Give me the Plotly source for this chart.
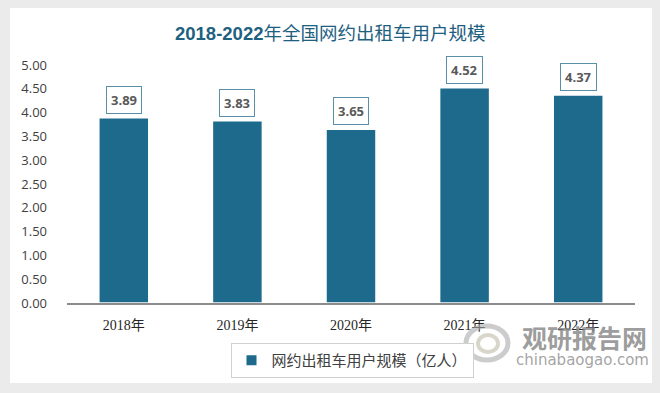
import plotly.graph_objects as go

categories = ["2018年", "2019年", "2020年", "2021年", "2022年"]
values = [3.89, 3.83, 3.65, 4.52, 4.37]
tick_vals = [0, 0.5, 1, 1.5, 2, 2.5, 3, 3.5, 4, 4.5, 5]
tick_text = ["%.2f" % v for v in tick_vals]
series_name = "网约出租车用户规模（亿人）"
title_num = "2018-2022"
title_rest = "年全国网约出租车用户规模"

BAR = "#1d6a8c"
W, H = 660, 393
L, R, T, B = 67, 25, 65, 90
PW, PH = W - L - R, H - T - B


def px(x):
    return (x - L) / PW


def py(y):
    return (H - B - y) / PH


fig = go.Figure()
fig.add_trace(go.Bar(
    x=categories, y=values, name=series_name,
    marker=dict(color=BAR, line=dict(color="#ffffff", width=1.5)),
    width=0.44, showlegend=True,
))

annotations = []
for c, v in zip(categories, values):
    annotations.append(dict(
        x=c, y=v, xref="x", yref="y", text="<b>%.2f</b>" % v,
        showarrow=False, yshift=18, font=dict(size=13, color="#595959", family="Open Sans, DejaVu Sans"),
        bgcolor="#ffffff", bordercolor="#5a8fa8", borderwidth=1, borderpad=4,
    ))
# title
annotations.append(dict(
    x=px(330), y=py(33), xref="paper", yref="paper", xanchor="center", yanchor="middle",
    text="<b>" + title_num + "</b>" + title_rest, showarrow=False,
    font=dict(size=18.5, color="#1d6080", family="Liberation Sans, Noto Sans CJK SC")))
# watermark
annotations.append(dict(x=px(584), y=py(337), xref="paper", yref="paper",
    xanchor="center", yanchor="middle",
    text="<b>观研报告网</b>", showarrow=False,
    font=dict(size=25, color="rgba(130,130,130,0.8)", family="Noto Sans CJK SC")))
annotations.append(dict(x=px(582), y=py(360), xref="paper", yref="paper",
    xanchor="center", yanchor="middle",
    text="chinabaogao.com", showarrow=False,
    font=dict(size=15, color="rgba(140,140,140,0.8)", family="DejaVu Sans")))

shapes = [
    dict(type="rect", xref="paper", yref="paper", layer="below",
         x0=px(10), x1=px(652), y0=py(383), y1=py(8),
         fillcolor="#ffffff", line=dict(width=0)),
    # watermark logo (rough swirl)
    dict(type="circle", xref="paper", yref="paper", layer="above",
         x0=px(466), x1=px(508), y0=py(360), y1=py(326),
         line=dict(color="rgba(170,170,170,0.6)", width=5), fillcolor="rgba(0,0,0,0)"),
    dict(type="circle", xref="paper", yref="paper", layer="above",
         x0=px(478), x1=px(498), y0=py(352), y1=py(335),
         line=dict(color="rgba(200,195,180,0.7)", width=4), fillcolor="rgba(0,0,0,0)"),
]

fig.update_layout(
    width=W, height=H,
    paper_bgcolor="#ebebeb",
    plot_bgcolor="#f2f2f2",
    margin=dict(l=L, r=R, t=T, b=B, autoexpand=False),
    font=dict(family="Noto Sans CJK SC", color="#333333"),
    xaxis=dict(showgrid=False, showline=True, linecolor="#8c8c8c", linewidth=1.5,
               tickfont=dict(size=14, color="#262626", family="Liberation Serif, Noto Sans CJK SC"),
               ticks="", ticklabelstandoff=8, automargin=False),
    yaxis=dict(range=[0, 5], tickvals=tick_vals, ticktext=tick_text, showgrid=False,
               zeroline=False, tickfont=dict(size=13, color="#404040", family="Open Sans, DejaVu Sans"),
               ticks="", ticklabelstandoff=19, automargin=False),
    legend=dict(orientation="h", x=352 / W, xref="container", xanchor="center",
                y=(H - 343) / H, yref="container", yanchor="top",
                bgcolor="#ffffff", bordercolor="#d0d0d0", borderwidth=1,
                font=dict(size=15, color="#404040", family="Noto Sans CJK SC"),
                itemsizing="constant"),
    annotations=annotations,
    shapes=shapes,
    bargap=0.56,
)

fig.write_html("out.html", config={"displayModeBar": False},
               post_script="document.body.style.margin='0';document.body.style.overflow='hidden';")
